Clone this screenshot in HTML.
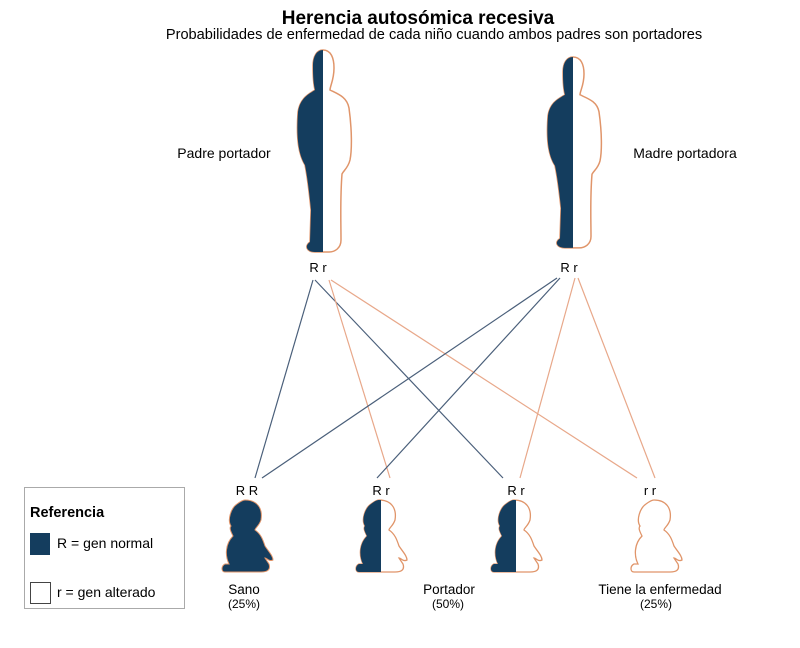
<!DOCTYPE html>
<html><head><meta charset="utf-8"><style>
body{margin:0;background:#fff;width:800px;height:648px;overflow:hidden}
svg{display:block}
text{font-family:"Liberation Sans",sans-serif}
</style></head><body>
<svg width="800" height="648" viewBox="0 0 800 648">
<defs>
<path id="adult" d="M0,0 C8,0 11,8 11,18 C11,30 7,36 7,40 C15,44 24,47 26,58 C29,80 29,100 27,110 C25,118 21,120 19,124 C17,150 18,172 18,190 C18,198 12,202 6,202 L0,202 L-8,202 C-16,202 -19,196 -13,192 L-12,160 C-14,140 -16,125 -18,115 C-24,105 -27,90 -25,62 C-23,48 -14,44 -8,40 C-10,32 -10,22 -10,16 C-10,6 -6,0 0,0 Z"/>
<path id="baby" d="M-2,0 C10,0 16,8 14,20 C12,26 8,28 8,30 C14,34 16,40 18,46 C22,52 26,56 26,60 C22,62 20,58 18,58 L22,64 C24,70 20,72 14,72 L-22,72 C-26,72 -26,66 -22,64 L-18,64 C-22,56 -22,44 -14,36 C-16,32 -18,28 -16,26 C-20,20 -16,8 -10,4 C-6,1 -4,0 -2,0Z"/>
<clipPath id="lh"><rect x="-100" y="-10" width="100" height="300"/></clipPath>
</defs>
<text x="418" y="24" font-size="19" font-weight="bold" text-anchor="middle">Herencia autosómica recesiva</text>
<text x="434" y="39" font-size="14.6" text-anchor="middle">Probabilidades de enfermedad de cada niño cuando ambos padres son portadores</text>
<g transform="translate(323,50)"><use href="#adult" fill="#fff" stroke="#e0956a" stroke-width="1.5"/><use href="#adult" fill="#143d5e" clip-path="url(#lh)"/></g>
<g transform="translate(573,57) scale(1,0.945)"><use href="#adult" fill="#fff" stroke="#e0956a" stroke-width="1.5"/><use href="#adult" fill="#143d5e" clip-path="url(#lh)"/></g>
<text x="224" y="158" font-size="14" text-anchor="middle">Padre portador</text>
<text x="685" y="158" font-size="14" text-anchor="middle">Madre portadora</text>
<text x="318" y="272" font-size="13" text-anchor="middle">R r</text>
<text x="569" y="272" font-size="13" text-anchor="middle">R r</text>
<g stroke-width="1.2">
<line x1="313" y1="280" x2="255" y2="478" stroke="#4a5f7a"/>
<line x1="315" y1="280" x2="503" y2="478" stroke="#4a5f7a"/>
<line x1="329" y1="280" x2="390" y2="478" stroke="#e8a88a"/>
<line x1="331" y1="280" x2="637" y2="478" stroke="#e8a88a"/>
<line x1="557" y1="278" x2="262" y2="478" stroke="#4a5f7a"/>
<line x1="560" y1="278" x2="377" y2="478" stroke="#4a5f7a"/>
<line x1="575" y1="278" x2="520" y2="478" stroke="#e8a88a"/>
<line x1="578" y1="278" x2="655" y2="478" stroke="#e8a88a"/>
</g>
<g font-size="13" text-anchor="middle">
<text x="247" y="495">R R</text><text x="381" y="495">R r</text><text x="516" y="495">R r</text><text x="650" y="495">r r</text>
</g>
<g transform="translate(247,500)"><use href="#baby" fill="#143d5e" stroke="#e0956a" stroke-width="1"/></g>
<g transform="translate(381,500)"><use href="#baby" fill="#fff" stroke="#e0956a" stroke-width="1.3"/><use href="#baby" fill="#143d5e" clip-path="url(#lh)"/></g>
<g transform="translate(516,500)"><use href="#baby" fill="#fff" stroke="#e0956a" stroke-width="1.3"/><use href="#baby" fill="#143d5e" clip-path="url(#lh)"/></g>
<g transform="translate(656,500)"><use href="#baby" fill="#fff" stroke="#e0956a" stroke-width="1.3"/></g>
<g font-size="13.5" text-anchor="middle">
<text x="244" y="594">Sano</text><text x="244" y="608" font-size="12">(25%)</text>
<text x="449" y="594">Portador</text><text x="448" y="608" font-size="12">(50%)</text>
<text x="660" y="594">Tiene la enfermedad</text><text x="656" y="608" font-size="12">(25%)</text>
</g>
<rect x="24.5" y="487.5" width="160" height="121" fill="#fff" stroke="#aaa"/>
<text x="30" y="517" font-size="14.5" font-weight="bold">Referencia</text>
<rect x="30" y="533" width="20" height="22" fill="#143d5e"/>
<text x="57" y="548" font-size="14">R = gen normal</text>
<rect x="30.5" y="582.5" width="20" height="21" fill="#fff" stroke="#444"/>
<text x="57" y="597" font-size="14">r = gen alterado</text>
</svg>
</body></html>
